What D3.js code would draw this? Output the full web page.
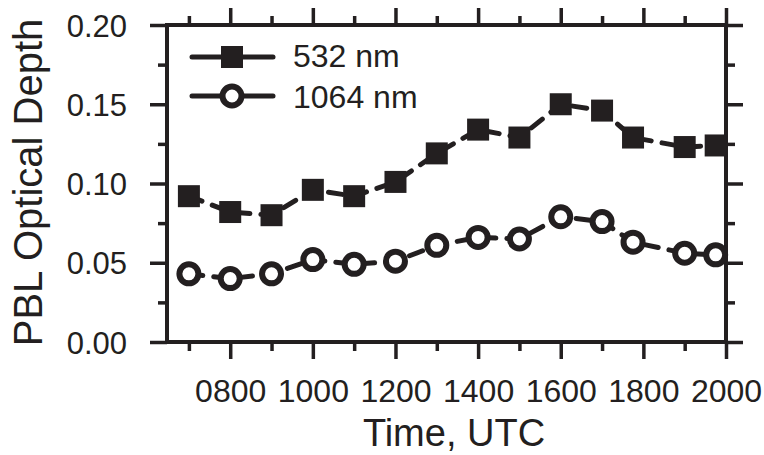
<!DOCTYPE html>
<html>
<head>
<meta charset="utf-8">
<script src="https://cdn.jsdelivr.net/npm/d3@7/dist/d3.min.js"></script>
<style>
  html, body { margin: 0; padding: 0; background: #fff; }
  svg { display: block; font-family: "Liberation Sans", Arial, Helvetica, sans-serif; }
</style>
</head>
<body>
<svg id="chart" width="764" height="455"></svg>
<script>
// Measurement times (decimal hours, UTC)
const hours = [7, 8, 9, 10, 11, 12, 13, 14, 15, 16, 17, 17.75, 19, 19.75];
// PBL optical depth at each wavelength
const od532  = [0.092, 0.082, 0.080, 0.096, 0.092, 0.101, 0.119, 0.134, 0.129, 0.150, 0.146, 0.129, 0.123, 0.124];
const od1064 = [0.043, 0.040, 0.043, 0.052, 0.049, 0.051, 0.061, 0.066, 0.065, 0.079, 0.076, 0.063, 0.056, 0.055];
const seriesNames = ["532 nm", "1064 nm"];
// Axis ticks
const xMajor = [8, 10, 12, 14, 16, 18, 20];
const xMinor = [7, 9, 11, 13, 15, 17, 19];
const yMajor = [0.00, 0.05, 0.10, 0.15, 0.20];
const yMinor = [0.025, 0.075, 0.125, 0.175];
const xTitle = "Time, UTC";
const yTitle = "PBL Optical Depth";

const ink = "#231f20";
const svg = d3.select("#chart");

const plotL = 167, plotR = 726, plotT = 25, plotB = 342;
const x = d3.scaleLinear().domain([6.47, 20]).range([plotL, plotR]);
const y = d3.scaleLinear().domain([0, 0.2]).range([plotB, plotT]);

const majorLen = 17, minorLen = 9;
const fmtX = h => d3.format("04d")(Math.round(h * 100));
const fmtY = d3.format(".2f");

function styleAxis(g) {
  g.select(".domain").remove();
  g.selectAll(".tick line").attr("stroke", ink).attr("stroke-width", 3.5);
  g.selectAll(".tick text").attr("fill", ink);
}

// bottom axis
svg.append("g").attr("transform", `translate(0,${plotB})`)
  .call(d3.axisBottom(x).tickValues(xMajor).tickSizeInner(majorLen).tickSizeOuter(0).tickFormat(fmtX))
  .call(styleAxis)
  .call(g => g.selectAll(".tick text").attr("y", 60).attr("dy", 0)
      .attr("font-size", 32).attr("font-family", "Liberation Sans, Arial, sans-serif"));
svg.append("g").attr("transform", `translate(0,${plotB})`)
  .call(d3.axisBottom(x).tickValues(xMinor).tickSizeInner(minorLen).tickSizeOuter(0).tickFormat(""))
  .call(styleAxis);

// top axis (outward ticks, no labels)
svg.append("g").attr("transform", `translate(0,${plotT})`)
  .call(d3.axisTop(x).tickValues(xMajor).tickSizeInner(majorLen).tickSizeOuter(0).tickFormat(""))
  .call(styleAxis);
svg.append("g").attr("transform", `translate(0,${plotT})`)
  .call(d3.axisTop(x).tickValues(xMinor).tickSizeInner(minorLen).tickSizeOuter(0).tickFormat(""))
  .call(styleAxis);

// left axis
svg.append("g").attr("transform", `translate(${plotL},0)`)
  .call(d3.axisLeft(y).tickValues(yMajor).tickSizeInner(majorLen).tickSizeOuter(0).tickFormat(fmtY))
  .call(styleAxis)
  .call(g => g.selectAll(".tick text").attr("x", -40).attr("dy", "0.36em")
      .attr("font-size", 31).attr("font-family", "Liberation Sans, Arial, sans-serif"));
svg.append("g").attr("transform", `translate(${plotL},0)`)
  .call(d3.axisLeft(y).tickValues(yMinor).tickSizeInner(minorLen).tickSizeOuter(0).tickFormat(""))
  .call(styleAxis);

// right axis
svg.append("g").attr("transform", `translate(${plotR},0)`)
  .call(d3.axisRight(y).tickValues(yMajor).tickSizeInner(majorLen).tickSizeOuter(0).tickFormat(""))
  .call(styleAxis);
svg.append("g").attr("transform", `translate(${plotR},0)`)
  .call(d3.axisRight(y).tickValues(yMinor).tickSizeInner(minorLen).tickSizeOuter(0).tickFormat(""))
  .call(styleAxis);

// frame
svg.append("rect")
  .attr("x", plotL).attr("y", plotT)
  .attr("width", plotR - plotL).attr("height", plotB - plotT)
  .attr("fill", "none").attr("stroke", ink).attr("stroke-width", 4);

// axis titles
svg.append("text")
  .attr("x", 454).attr("y", 446)
  .attr("text-anchor", "middle").attr("font-size", 38).attr("fill", ink)
  .text(xTitle);
svg.append("text")
  .attr("transform", `translate(42,182.5) rotate(-90)`)
  .attr("text-anchor", "middle").attr("font-size", 40).attr("fill", ink)
  .text(yTitle);

// series
const series = [
  { name: seriesNames[0], values: od532, shape: "square" },
  { name: seriesNames[1], values: od1064, shape: "circle" }
];
const sq = 22, rC = 9.5;

const line = d3.line().x(d => x(d[0])).y(d => y(d[1]));

function drawMarker(g, shape, cx, cy) {
  if (shape === "square") {
    g.append("rect")
      .attr("x", cx - sq / 2).attr("y", cy - sq / 2)
      .attr("width", sq).attr("height", sq)
      .attr("fill", ink);
  } else {
    g.append("circle")
      .attr("cx", cx).attr("cy", cy).attr("r", rC)
      .attr("fill", "#fff").attr("stroke", ink).attr("stroke-width", 6);
  }
}

series.forEach(s => {
  const pts = hours.map((h, i) => [h, s.values[i]]);
  svg.append("path")
    .datum(pts)
    .attr("d", line)
    .attr("fill", "none")
    .attr("stroke", ink)
    .attr("stroke-width", 5)
    .attr("stroke-linecap", "round")
    .attr("stroke-dasharray", "14,11");
  const g = svg.append("g");
  pts.forEach(p => drawMarker(g, s.shape, x(p[0]), y(p[1])));
});

// legend
const legendY = [57, 96];
const legendBase = [67, 108];
series.forEach((s, i) => {
  const g = svg.append("g");
  g.append("line")
    .attr("x1", 192).attr("x2", 273)
    .attr("y1", legendY[i]).attr("y2", legendY[i])
    .attr("stroke", ink).attr("stroke-width", 5).attr("stroke-linecap", "round");
  drawMarker(g, s.shape, 232, legendY[i]);
  g.append("text")
    .attr("x", 293).attr("y", legendBase[i])
    .attr("font-size", 32).attr("fill", ink)
    .text(s.name);
});
</script>
</body>
</html>
